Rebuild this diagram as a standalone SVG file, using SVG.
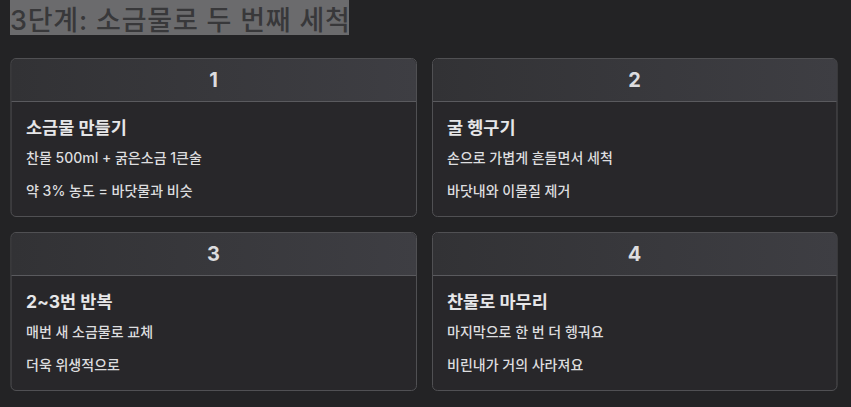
<svg xmlns="http://www.w3.org/2000/svg" width="851" height="407" viewBox="0 0 851 407">
<defs>
<linearGradient id="hg" x1="0" y1="0" x2="1" y2="0">
<stop offset="0" stop-color="#323235"/>
<stop offset="1" stop-color="#3e3e43"/>
</linearGradient>
</defs>
<style>
text{font-family:Inter,"Noto Sans CJK KR","Noto Sans",sans-serif;}
.card{fill:#28272a;stroke:#505053;stroke-width:1;}
.hdr{fill:url(#hg);}
.sep{stroke:#5a5a5e;stroke-width:1;}
.num{fill:#dcdcde;font-size:20px;font-weight:700;text-anchor:middle;}
.ttl{fill:#e6e6e8;font-size:17.5px;font-weight:700;}
.ln{fill:#dddddf;font-size:14px;font-weight:500;}
</style>
<rect width="851" height="407" fill="#232325"/>
<g id="title">
<rect x="10" y="0" width="339" height="35" fill="#6b6b6d"/>
<text x="10" y="30" font-size="27" font-weight="500" fill="#38383a" letter-spacing="0.8">3단계: 소금물로 두 번째 세척</text>
</g>
<g id="card1">
<rect class="card" x="11" y="58.5" width="405.5" height="158" rx="5"/>
<path class="hdr" d="M16.5,59 H411 a5,5 0 0 1 5,5 V101.5 H11.5 V64 a5,5 0 0 1 5,-5 Z"/>
<line class="sep" x1="11.5" y1="101.5" x2="416" y2="101.5"/>
<text class="num" x="213.5" y="87">1</text>
<text class="ttl" x="26" y="133.5">소금물 만들기</text>
<text class="ln" x="26" y="162.5">찬물 500ml + 굵은소금 1큰술</text>
<text class="ln" x="26" y="195.5">약 3% 농도 = 바닷물과 비슷</text>
</g>
<g id="card2">
<rect class="card" x="432.5" y="58.5" width="404.5" height="158" rx="5"/>
<path class="hdr" d="M438,59 H832 a5,5 0 0 1 5,5 V101.5 H433 V64 a5,5 0 0 1 5,-5 Z"/>
<line class="sep" x1="433" y1="101.5" x2="836.5" y2="101.5"/>
<text class="num" x="634.5" y="87">2</text>
<text class="ttl" x="447" y="133.5">굴 헹구기</text>
<text class="ln" x="447" y="162.5">손으로 가볍게 흔들면서 세척</text>
<text class="ln" x="447" y="195.5">바닷내와 이물질 제거</text>
</g>
<g id="card3">
<rect class="card" x="11" y="232.5" width="405.5" height="158" rx="5"/>
<path class="hdr" d="M16.5,233 H411 a5,5 0 0 1 5,5 V275.5 H11.5 V238 a5,5 0 0 1 5,-5 Z"/>
<line class="sep" x1="11.5" y1="275.5" x2="416" y2="275.5"/>
<text class="num" x="213.5" y="261">3</text>
<text class="ttl" x="26" y="307.5">2~3번 반복</text>
<text class="ln" x="26" y="336.5">매번 새 소금물로 교체</text>
<text class="ln" x="26" y="369.5">더욱 위생적으로</text>
</g>
<g id="card4">
<rect class="card" x="432.5" y="232.5" width="404.5" height="158" rx="5"/>
<path class="hdr" d="M438,233 H832 a5,5 0 0 1 5,5 V275.5 H433 V238 a5,5 0 0 1 5,-5 Z"/>
<line class="sep" x1="433" y1="275.5" x2="836.5" y2="275.5"/>
<text class="num" x="634.5" y="261">4</text>
<text class="ttl" x="447" y="307.5">찬물로 마무리</text>
<text class="ln" x="447" y="336.5">마지막으로 한 번 더 헹궈요</text>
<text class="ln" x="447" y="369.5">비린내가 거의 사라져요</text>
</g>
<g id="connectors"></g>
</svg>
